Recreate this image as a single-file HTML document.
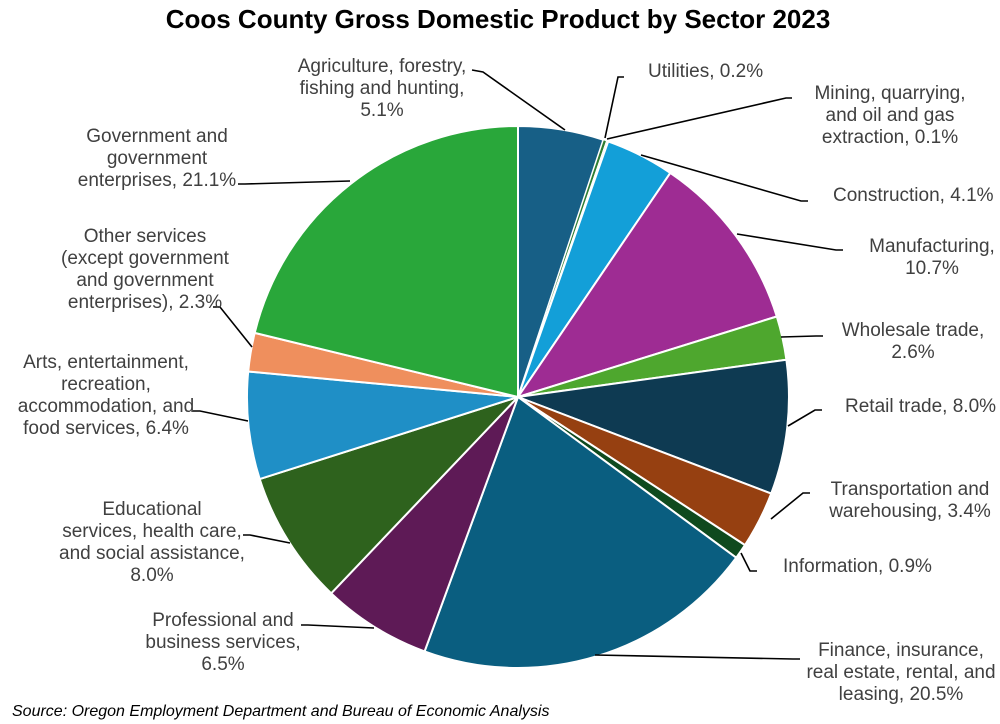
<!DOCTYPE html>
<html><head><meta charset="utf-8"><style>
body{margin:0;background:#fff;width:1000px;height:724px;overflow:hidden}
svg{display:block}
text{font-family:"Liberation Sans",Arial,sans-serif;fill:#404040;font-size:19px}
</style></head><body>
<svg width="1000" height="724" viewBox="0 0 1000 724">
<text x="498" y="28" text-anchor="middle" style="font-size:26px;font-weight:bold;fill:#000">Coos County Gross Domestic Product by Sector 2023</text>
<g stroke="#fff" stroke-width="2" stroke-linejoin="round">
<path d="M518,397 L518,126 A271,271 0 0 1 603.4,139.8 Z" fill="#175f86"/>
<path d="M518,397 L603.4,139.8 A271,271 0 0 1 606.6,140.9 Z" fill="#2e7d32" stroke-width="1"/>
<path d="M518,397 L606.6,140.9 A271,271 0 0 1 608.2,141.4 Z" fill="#d9d9d9" stroke-width="1"/>
<path d="M518,397 L608.2,141.4 A271,271 0 0 1 670.3,172.9 Z" fill="#139fd8"/>
<path d="M518,397 L670.3,172.9 A271,271 0 0 1 776.8,316.5 Z" fill="#9e2c93"/>
<path d="M518,397 L776.8,316.5 A271,271 0 0 1 786.4,359.7 Z" fill="#4ea72e"/>
<path d="M518,397 L786.4,359.7 A271,271 0 0 1 771.2,493.6 Z" fill="#0e3a52"/>
<path d="M518,397 L771.2,493.6 A271,271 0 0 1 745.0,545.1 Z" fill="#964011"/>
<path d="M518,397 L745.0,545.1 A271,271 0 0 1 736.2,557.7 Z" fill="#0f4a1e"/>
<path d="M518,397 L736.2,557.7 A271,271 0 0 1 424.6,651.4 Z" fill="#0a5e80"/>
<path d="M518,397 L424.6,651.4 A271,271 0 0 1 331.2,593.3 Z" fill="#5e1a56"/>
<path d="M518,397 L331.2,593.3 A271,271 0 0 1 259.7,479.1 Z" fill="#2e621d"/>
<path d="M518,397 L259.7,479.1 A271,271 0 0 1 248.2,371.5 Z" fill="#1f8fc6"/>
<path d="M518,397 L248.2,371.5 A271,271 0 0 1 254.7,332.9 Z" fill="#ef8f5d"/>
<path d="M518,397 L254.7,332.9 A271,271 0 0 1 518,126 Z" fill="#29a73a"/>
</g>
<g stroke="#000" stroke-width="1.6" fill="none">
<polyline points="472,70 483,72 565,130"/>
<polyline points="624,77 618,77 605,138"/>
<polyline points="792,98 786,98 607,139"/>
<polyline points="808,201 801,201 641,155"/>
<polyline points="843,250 836,250 737,234"/>
<polyline points="823,336 816,336 781,337"/>
<polyline points="822,410 815,410 788,426"/>
<polyline points="810,493 803,493 771,519"/>
<polyline points="757,571 750,571 741,553"/>
<polyline points="800,659 793,659 595,655"/>
<polyline points="301,625 308,625 374,628"/>
<polyline points="243,535 250,535 290,543"/>
<polyline points="193,411 200,411 248,421"/>
<polyline points="213,307 220,307 252,347"/>
<polyline points="238,184 245,184 350,181"/>
</g>
<g transform="translate(0,-5)">
<g text-anchor="middle">
<text x="382" y="77">Agriculture, forestry,</text><text x="382" y="99">fishing and hunting,</text><text x="382" y="121">5.1%</text>
<text x="890" y="104">Mining, quarrying,</text><text x="890" y="126">and oil and gas</text><text x="890" y="148">extraction, 0.1%</text>
<text x="932" y="257">Manufacturing,</text><text x="932" y="279">10.7%</text>
<text x="913" y="341">Wholesale trade,</text><text x="913" y="363">2.6%</text>
<text x="910" y="500">Transportation and</text><text x="910" y="522">warehousing, 3.4%</text>
<text x="901" y="661">Finance, insurance,</text><text x="901" y="683">real estate, rental, and</text><text x="901" y="705">leasing, 20.5%</text>
<text x="223" y="631">Professional and</text><text x="223" y="653">business services,</text><text x="223" y="675">6.5%</text>
<text x="152" y="520">Educational</text><text x="152" y="542">services, health care,</text><text x="152" y="564">and social assistance,</text><text x="152" y="586">8.0%</text>
<text x="106" y="373">Arts, entertainment,</text><text x="106" y="395">recreation,</text><text x="106" y="417">accommodation, and</text><text x="106" y="439">food services, 6.4%</text>
<text x="145" y="247">Other services</text><text x="145" y="269">(except government</text><text x="145" y="291">and government</text><text x="145" y="313">enterprises), 2.3%</text>
<text x="157" y="147">Government and</text><text x="157" y="169">government</text><text x="157" y="191">enterprises, 21.1%</text>
</g>
<text x="648" y="82">Utilities, 0.2%</text>
<text x="833" y="206">Construction, 4.1%</text>
<text x="845" y="417">Retail trade, 8.0%</text>
<text x="783" y="577">Information, 0.9%</text>
</g>
<text x="12" y="716" style="font-size:16px;font-style:italic;fill:#000">Source: Oregon Employment Department and Bureau of Economic Analysis</text>
</svg>
</body></html>
